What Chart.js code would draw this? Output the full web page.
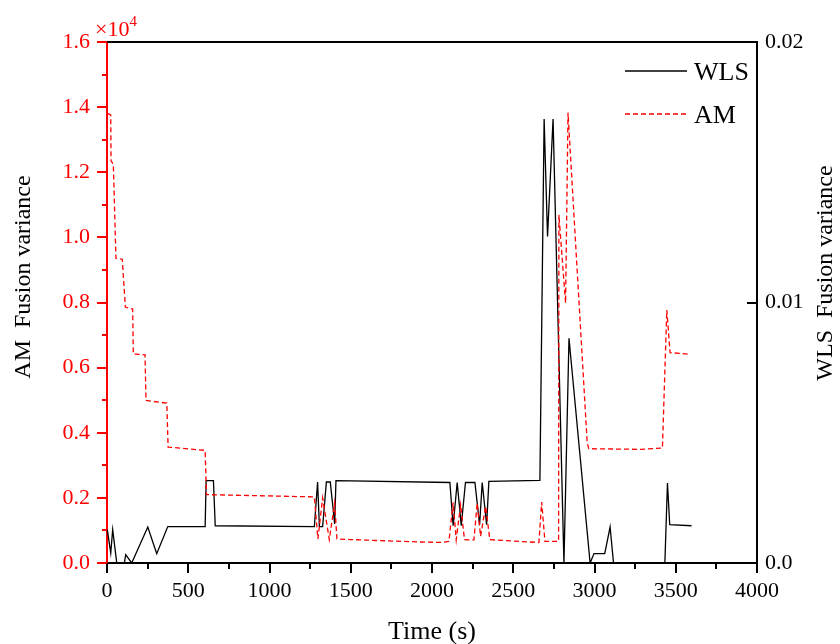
<!DOCTYPE html>
<html lang="en">
<head>
<meta charset="UTF-8">
<title>AM and WLS fusion variance</title>
<style>
  html, body { margin: 0; padding: 0; background: #fff; }
</style>
</head>
<body>
<canvas id="myChart" width="840" height="644"></canvas>

<script src="https://cdn.jsdelivr.net/npm/chart.js@4.4.0/dist/chart.umd.min.js"></script>
<script>
    // AM fusion variance (raw values, axis shows them in units of 10^4)
    var amTime  = [2, 23, 25, 39, 55, 94, 113, 158, 162, 234, 240, 368, 376, 604, 612, 1276,
                   1298, 1327, 1368, 1401, 1415, 1497, 1929, 2052, 2104, 2130, 2149, 2176, 2200,
                   2258, 2278, 2299, 2330, 2356, 2658, 2675, 2695, 2779, 2781, 2822, 2837, 2955,
                   2965, 3285, 3418, 3445, 3465, 3589];
    var amValue = [13810, 13760, 12350, 12250, 9360, 9330, 7860, 7800, 6420, 6390, 4990, 4910,
                   3560, 3460, 2100, 2030, 740, 2000, 720, 1840, 740, 720, 645, 632, 660, 1860,
                   715, 1790, 715, 710, 1840, 820, 1740, 715, 630, 1870, 665, 665, 10690, 7980,
                   13830, 3700, 3510, 3490, 3530, 7770, 6460, 6410];

    // WLS fusion variance
    var wlsTime  = [2, 23, 35, 60, 107, 115, 152, 251, 306, 374, 604, 610, 655, 666, 1276, 1296,
                    1307, 1327, 1350, 1374, 1401, 1409, 2110, 2130, 2155, 2180, 2206, 2264, 2293,
                    2309, 2336, 2350, 2664, 2690, 2711, 2745, 2812, 2843, 2973, 2997, 3063, 3096,
                    3117, 3433, 3449, 3463, 3597];
    var wlsValue = [0.00128, 0.00038, 0.00128, 0, 0, 0.00032, 0, 0.00138, 0.00036, 0.0014, 0.0014,
                    0.00316, 0.00316, 0.00143, 0.0014, 0.00311, 0.0014, 0.0014, 0.00311, 0.00311,
                    0.0015, 0.00316, 0.00309, 0.00143, 0.00309, 0.00143, 0.00309, 0.00309, 0.00147,
                    0.00309, 0.00147, 0.00313, 0.00317, 0.01704, 0.01253, 0.01704, 0, 0.00863, 0,
                    0.00036, 0.00036, 0.00138, 0, 0, 0.00307, 0.00147, 0.00143];

    var xTicks = [0, 500, 1000, 1500, 2000, 2500, 3000, 3500, 4000];

    var serif = "'Times New Roman', 'Liberation Serif', serif";
    var red = '#ff0000';

    function toPoints(xs, ys) {
        return xs.map(function (x, i) { return { x: x, y: ys[i] }; });
    }

    // frame, tick marks, titles and legend
    var decorations = {
        id: 'decorations',
        afterDraw: function (chart) {
            var ctx = chart.ctx, a = chart.chartArea;
            var sx = chart.scales.x, sl = chart.scales.yAM, sr = chart.scales.yWLS;
            var i, p, v;
            ctx.save();

            // top frame line
            ctx.strokeStyle = '#000';
            ctx.lineWidth = 2;
            ctx.beginPath();
            ctx.moveTo(a.left, a.top);
            ctx.lineTo(a.right + 1, a.top);
            ctx.stroke();

            // x ticks (major + minor), outward
            for (v = sx.min; v <= sx.max; v += 250) {
                p = Math.round(sx.getPixelForValue(v));
                ctx.beginPath();
                ctx.moveTo(p, a.bottom);
                ctx.lineTo(p, a.bottom + (v % 500 === 0 ? 10 : 6));
                ctx.stroke();
            }

            // left ticks, outward, red
            ctx.strokeStyle = red;
            for (v = sl.min; v <= sl.max; v += 1000) {
                p = Math.round(sl.getPixelForValue(v));
                ctx.beginPath();
                ctx.moveTo(a.left, p);
                ctx.lineTo(a.left - (v % 2000 === 0 ? 10 : 5), p);
                ctx.stroke();
            }

            // right ticks, inward
            ctx.strokeStyle = '#000';
            for (i = 0; i < sr.ticks.length; i++) {
                p = Math.round(sr.getPixelForValue(sr.ticks[i].value));
                ctx.beginPath();
                ctx.moveTo(a.right, p);
                ctx.lineTo(a.right - 10, p);
                ctx.stroke();
            }

            // axis titles
            ctx.fillStyle = '#000';
            ctx.textAlign = 'center';
            ctx.textBaseline = 'middle';
            ctx.font = '26px ' + serif;
            ctx.fillText('Time (s)', (a.left + a.right) / 2, a.bottom + 69);

            ctx.font = '24px ' + serif;
            ctx.save();
            ctx.translate(24, 277);
            ctx.rotate(-Math.PI / 2);
            ctx.fillText('AM  Fusion variance', 0, 0);
            ctx.restore();

            ctx.save();
            ctx.translate(826, 273);
            ctx.rotate(-Math.PI / 2);
            ctx.fillText('WLS  Fusion variance', 0, 0);
            ctx.restore();

            // x10^4 multiplier for the left axis
            ctx.fillStyle = red;
            ctx.textAlign = 'left';
            ctx.textBaseline = 'alphabetic';
            ctx.font = '22px ' + serif;
            ctx.fillText('\u00d710', a.left - 12, a.top - 6);
            var w = ctx.measureText('\u00d710').width;
            ctx.font = '15px ' + serif;
            ctx.fillText('4', a.left - 12 + w, a.top - 16);

            // legend
            var ds = chart.data.datasets;
            var ly = [a.top + 29, a.top + 72];
            for (i = 0; i < ds.length; i++) {
                ctx.strokeStyle = ds[i].borderColor;
                ctx.lineWidth = ds[i].borderWidth;
                ctx.setLineDash(ds[i].borderDash || []);
                ctx.beginPath();
                ctx.moveTo(a.right - 132, ly[i]);
                ctx.lineTo(a.right - 70, ly[i]);
                ctx.stroke();
                ctx.setLineDash([]);
                ctx.fillStyle = '#000';
                ctx.textBaseline = 'middle';
                ctx.font = '26px ' + serif;
                ctx.fillText(ds[i].label, a.right - 63, ly[i] + 2);
            }
            ctx.restore();
        }
    };

    var ctx = document.getElementById('myChart').getContext('2d');
    var chart = new Chart(ctx, {
        type: 'line',
        data: {
            datasets: [
                {
                    label: 'WLS',
                    data: toPoints(wlsTime, wlsValue),
                    yAxisID: 'yWLS',
                    borderColor: '#000000',
                    borderWidth: 1.3,
                    pointRadius: 0,
                    tension: 0,
                    order: 1
                },
                {
                    label: 'AM',
                    data: toPoints(amTime, amValue),
                    yAxisID: 'yAM',
                    borderColor: red,
                    borderWidth: 1.3,
                    borderDash: [5, 3],
                    pointRadius: 0,
                    tension: 0,
                    order: 0
                }
            ]
        },
        options: {
            responsive: false,
            animation: false,
            devicePixelRatio: 1,
            layout: { padding: { top: 42, left: 0, right: 0, bottom: 0 } },
            plugins: {
                legend: { display: false },
                tooltip: { enabled: false }
            },
            scales: {
                x: {
                    type: 'linear',
                    min: 0,
                    max: 4000,
                    afterBuildTicks: function (s) {
                        s.ticks = xTicks.map(function (v) { return { value: v }; });
                    },
                    grid: { display: false, drawTicks: false },
                    border: { display: true, color: '#000', width: 2 },
                    ticks: {
                        padding: 15,
                        color: '#000',
                        maxRotation: 0,
                        font: { family: serif, size: 22 },
                        callback: function (v) { return String(v); }
                    },
                    afterFit: function (s) { s.height = 81; }
                },
                yAM: {
                    type: 'linear',
                    position: 'left',
                    min: 0,
                    max: 16000,
                    grid: { display: false, drawTicks: false },
                    border: { display: true, color: red, width: 2 },
                    ticks: {
                        stepSize: 2000,
                        padding: 17,
                        color: red,
                        font: { family: serif, size: 22 },
                        callback: function (v) { return (v / 10000).toFixed(1); }
                    },
                    afterFit: function (s) { s.width = 107; }
                },
                yWLS: {
                    type: 'linear',
                    position: 'right',
                    min: 0,
                    max: 0.02,
                    grid: { display: false, drawTicks: false },
                    border: { display: true, color: '#000', width: 2 },
                    ticks: {
                        stepSize: 0.01,
                        padding: 8,
                        color: '#000',
                        font: { family: serif, size: 22 },
                        callback: function (v) { return v === 0 ? '0.0' : v.toFixed(2); }
                    },
                    afterFit: function (s) { s.width = 83; }
                }
            }
        },
        plugins: [decorations]
    });
</script>
</body>
</html>
